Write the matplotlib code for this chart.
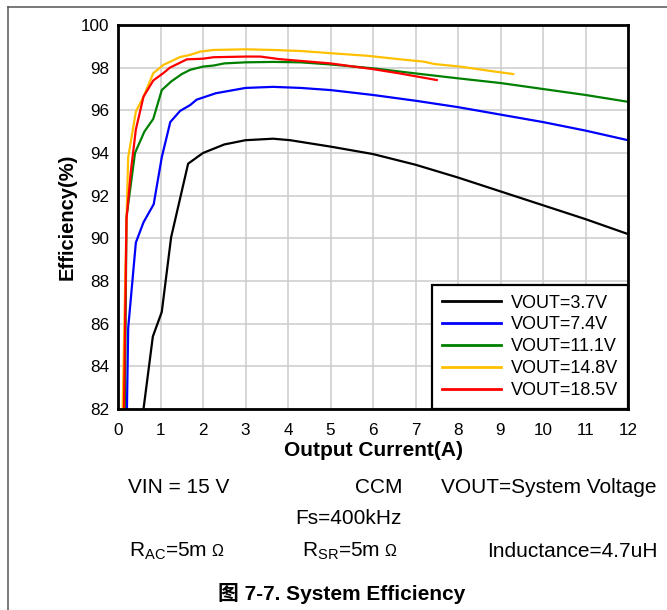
import matplotlib
matplotlib.use("Agg")
import matplotlib.pyplot as plt
from matplotlib.lines import Line2D

plt.rcParams['font.family'] = ['Liberation Sans', 'Noto Sans CJK SC', 'DejaVu Sans']
plt.rcParams['mathtext.fontset'] = 'custom'
plt.rcParams['mathtext.rm'] = 'Liberation Sans'
plt.rcParams['mathtext.it'] = 'Liberation Sans:italic'
plt.rcParams['mathtext.bf'] = 'Liberation Sans:bold'

# ---------------- data ----------------
i_37 = [0.6, 0.82, 1.03, 1.25, 1.65, 2.0, 2.5, 3.0, 3.65, 4.05, 5.0, 6.0, 7.0, 8.0, 9.0, 10.0, 11.0, 12.0]
e_37 = [82.0, 85.4, 86.55, 90.05, 93.5, 94.0, 94.4, 94.6, 94.67, 94.6, 94.3, 93.95, 93.45, 92.85, 92.2, 91.55, 90.9, 90.2]

i_74 = [0.21, 0.24, 0.42, 0.6, 0.84, 1.03, 1.23, 1.46, 1.7, 1.85, 2.3, 3.0, 3.65, 4.3, 5.0, 6.0, 7.0, 8.0, 9.0, 10.0, 11.0, 12.0]
e_74 = [82.0, 85.8, 89.8, 90.75, 91.6, 93.8, 95.45, 95.97, 96.25, 96.5, 96.8, 97.05, 97.1, 97.05, 96.95, 96.72, 96.45, 96.15, 95.8, 95.45, 95.05, 94.6]

i_111 = [0.16, 0.2, 0.4, 0.62, 0.83, 1.03, 1.25, 1.5, 1.7, 2.0, 2.25, 2.5, 3.0, 3.65, 4.3, 5.0, 6.0, 7.0, 8.0, 9.0, 10.0, 11.0, 12.0]
e_111 = [82.0, 91.0, 94.0, 95.0, 95.6, 96.95, 97.35, 97.7, 97.9, 98.05, 98.1, 98.2, 98.25, 98.27, 98.25, 98.15, 97.97, 97.73, 97.5, 97.28, 97.0, 96.72, 96.4]

i_148 = [0.11, 0.2, 0.24, 0.42, 0.6, 0.83, 1.07, 1.46, 1.7, 1.93, 2.24, 3.0, 3.65, 4.3, 5.06, 5.85, 6.6, 7.2, 7.45, 8.05, 8.75, 9.3]
e_148 = [82.0, 90.9, 93.8, 95.94, 96.64, 97.74, 98.13, 98.5, 98.6, 98.75, 98.83, 98.86, 98.83, 98.78, 98.67, 98.56, 98.4, 98.28, 98.17, 98.05, 97.85, 97.7]

i_185 = [0.14, 0.2, 0.3, 0.42, 0.6, 0.83, 1.07, 1.22, 1.62, 2.0, 2.25, 3.0, 3.35, 3.8, 5.0, 6.0, 6.6, 7.5]
e_185 = [82.0, 90.9, 93.1, 95.1, 96.64, 97.4, 97.75, 98.0, 98.39, 98.42, 98.49, 98.52, 98.52, 98.4, 98.2, 97.93, 97.74, 97.42]

series_labels = ["VOUT=3.7V", "VOUT=7.4V", "VOUT=11.1V", "VOUT=14.8V", "VOUT=18.5V"]
series_colors = ["#000000", "#0000ff", "#008000", "#ffc000", "#ff0000"]

x_ticks = list(range(0, 13))
y_ticks = list(range(82, 101, 2))

x_label = "Output Current(A)"
y_label = "Efficiency(%)"
caption = "图 7-7. System Efficiency"

# ---------------- figure ----------------
W, H = 667, 610
fig = plt.figure(figsize=(W / 100, H / 100), dpi=100)
ax = fig.add_axes([118 / W, 1 - 409 / H, (628 - 118) / W, (409 - 25) / H])

data = [(i_37, e_37), (i_74, e_74), (i_111, e_111), (i_148, e_148), (i_185, e_185)]
for (xs, ys), lab, col in zip(data, series_labels, series_colors):
    ax.plot(xs, ys, color=col, lw=1.6, label=lab, solid_joinstyle='round')

ax.set_xlim(0, 12)
ax.set_ylim(82, 100)
ax.set_xticks(x_ticks)
ax.set_yticks(y_ticks)
ax.grid(True, color="#cccccc", lw=1.1)
ax.set_axisbelow(True)
for sp in ax.spines.values():
    sp.set_linewidth(2.0)
    sp.set_color("black")
ax.tick_params(axis='both', length=0, labelsize=12.3)
ax.tick_params(axis='y', pad=6)
ax.tick_params(axis='x', pad=10)

ax.set_xlabel(x_label, fontsize=15, fontweight='bold', labelpad=2)
ax.set_ylabel(y_label, fontsize=14.5, fontweight='bold', labelpad=3)

leg = ax.legend(loc='lower right', bbox_to_anchor=(1, 0), borderaxespad=0,
                fontsize=13, handlelength=3.3, handletextpad=0.53,
                borderpad=0.55, labelspacing=0.27, fancybox=False,
                framealpha=1, edgecolor='black')
leg.get_frame().set_linewidth(1.6)
for h in leg.get_lines():
    h.set_linewidth(2.0)

# frame lines of the figure panel
fig.add_artist(Line2D([8 / W, 1], [1 - 7 / H, 1 - 7 / H], transform=fig.transFigure, color="#555555", lw=1.1))
fig.add_artist(Line2D([8 / W, 8 / W], [0, 1 - 7 / H], transform=fig.transFigure, color="#555555", lw=1.1))

def ftext(xp, yp, s, **kw):
    return fig.text(xp / W, 1 - yp / H, s, va='baseline', **kw)

fs = 15
ftext(128, 493, "VIN = 15 V", fontsize=fs, ha='left')
ftext(355, 493, "CCM", fontsize=fs, ha='left')
ftext(441, 493, "VOUT=System Voltage", fontsize=fs, ha='left')
ftext(295, 524, "Fs=400kHz", fontsize=fs, ha='left')
t_ac = ftext(129, 557, r"R$_{\mathrm{AC}}$=5m", fontsize=fs, ha='left')
t_sr = ftext(302, 557, r"R$_{\mathrm{SR}}$=5m", fontsize=fs, ha='left')
ftext(487, 557, "Inductance=4.7uH", fontsize=fs, ha='left')
ftext(342, 600, caption, fontsize=15, fontweight='bold', ha='center')

fig.canvas.draw()
r = fig.canvas.get_renderer()
for t in (t_ac, t_sr):
    bb = t.get_window_extent(renderer=r)
    fig.text((bb.x1 + 4) / W, 1 - 556 / H, "Ω", fontsize=11.5, ha='left', va='baseline')

fig.savefig("out.png", dpi=100)
